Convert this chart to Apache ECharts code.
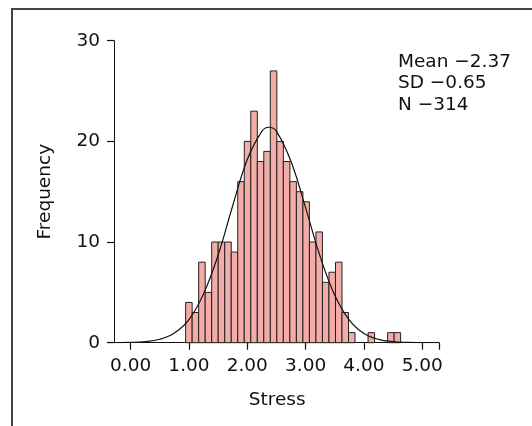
<!DOCTYPE html>
<html>
<head>
<meta charset="utf-8">
<script src="https://cdn.jsdelivr.net/npm/echarts@6/dist/echarts.min.js"></script>
<style>html,body{margin:0;padding:0;background:#fff;}#c{width:532px;height:426px;}</style>
</head>
<body>
<div id="c"></div>
<script>
// Histogram of Stress (N = 314)
const binStart = 0.943;
const binWidth = 0.1117;
const counts = [4, 3, 8, 5, 10, 10, 10, 9, 16, 20, 23, 18, 19, 27, 20, 18, 16, 15, 14, 10, 11, 6, 7, 8, 3, 1, 0, 0, 1, 0, 0, 1, 1];
// Fitted normal curve
const curveX = [-0.4, 0, 0.25, 0.5, 0.75, 1.0, 1.25, 1.5, 1.75, 2.0, 2.25, 2.37, 2.5, 2.75, 3.0, 3.25, 3.5, 3.75, 4.0, 4.25, 4.5, 4.75, 5.0, 5.287];
const curveY = [0, 0.03, 0.1, 0.34, 0.96, 2.3, 4.85, 8.7, 13.6, 18.2, 21.0, 21.4, 21.0, 18.0, 13.4, 8.56, 4.72, 2.25, 0.92, 0.33, 0.1, 0.03, 0.01, 0];
const xTicks = [0, 1, 2, 3, 4, 5];
const yTicks = [0, 10, 20, 30];
const statLines = ['Mean \u22122.37', 'SD \u22120.65', 'N \u2212314'];

const FONT = '"DejaVu Sans", "Liberation Sans", Arial, sans-serif';
const FS = 18.5;
const xMin = -0.4, xMax = 5.287;

const barData = [];
counts.forEach((c, i) => {
  if (c > 0) barData.push([binStart + i * binWidth, binStart + (i + 1) * binWidth, c]);
});
const curveData = curveX.map((x, i) => [x, curveY[i]]);

const chart = echarts.init(document.getElementById('c'), null, {renderer: 'canvas'});
chart.setOption({
  animation: false,
  backgroundColor: '#fff',
  grid: {left: 107.3, right: 93, top: 40.7, bottom: 83.3, containLabel: false},
  xAxis: {
    type: 'value', min: xMin, max: xMax,
    name: 'Stress', nameLocation: 'middle', nameGap: 48,
    nameTextStyle: {fontFamily: FONT, fontSize: FS, color: '#111', padding: [0, 0, 0, 8]},
    axisLine: {show: true, onZero: false, lineStyle: {color: '#111', width: 1}},
    axisTick: {show: true, inside: false, length: 7, lineStyle: {color: '#111', width: 1.2}, customValues: xTicks.concat([xMax])},
    axisLabel: {customValues: xTicks, fontFamily: FONT, fontSize: FS, color: '#111', margin: 14,
      formatter: v => Number(v).toFixed(2)},
    splitLine: {show: false}
  },
  yAxis: {
    type: 'value', min: 0, max: 30, interval: 10, offset: -6.7,
    name: 'Frequency', nameLocation: 'middle', nameGap: 59, nameRotate: 90,
    nameTextStyle: {fontFamily: FONT, fontSize: FS, color: '#111'},
    axisLine: {show: true, onZero: false, lineStyle: {color: '#111', width: 1}},
    axisTick: {show: true, inside: false, length: 7, lineStyle: {color: '#111', width: 1.2}},
    axisLabel: {fontFamily: FONT, fontSize: FS, color: '#111', margin: 14},
    splitLine: {show: false}
  },
  series: [
    {
      type: 'custom',
      data: barData,
      encode: {x: [0, 1], y: 2},
      renderItem: function (params, api) {
        const p0 = api.coord([api.value(0), api.value(2)]);
        const p1 = api.coord([api.value(1), 0]);
        return {
          type: 'rect',
          shape: {x: p0[0], y: p0[1], width: p1[0] - p0[0], height: p1[1] - p0[1]},
          style: {fill: '#F3ACA7', stroke: '#222', lineWidth: 1}
        };
      },
      z: 2
    },
    {
      type: 'line',
      data: curveData,
      smooth: 0.4,
      showSymbol: false,
      lineStyle: {color: '#111', width: 1.2},
      z: 3
    }
  ],
  graphic: [
    {type: 'polyline', shape: {points: [[12, 426], [12, 9], [532, 9]]},
     style: {stroke: '#444', lineWidth: 2, fill: null}, silent: true},
    {type: 'text', left: 398, top: 51,
     style: {text: statLines.join('\n'), font: FS + 'px ' + FONT, fill: '#111', lineHeight: 21.7}}
  ]
});
</script>
</body>
</html>
